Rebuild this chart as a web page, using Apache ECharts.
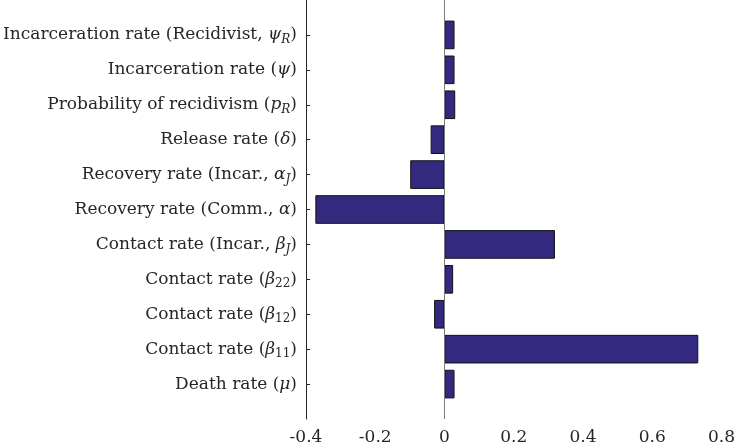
<!DOCTYPE html>
<html>
<head>
<meta charset="utf-8">
<script src="https://cdn.jsdelivr.net/npm/echarts@6/dist/echarts.min.js"></script>
<style>
    html, body { margin: 0; padding: 0; background: #fff; }
    #main { width: 738px; height: 446px; }
</style>
</head>
<body>
<div id="main"></div>
<script>
// categories from bottom to top, with rich-text markup for the math parts
const categories = [
    'Death rate ({m|μ})',
    'Contact rate ({m|β}{n|11})',
    'Contact rate ({m|β}{n|12})',
    'Contact rate ({m|β}{n|22})',
    'Contact rate (Incar., {m|β}{s|J})',
    'Recovery rate (Comm., {m|α})',
    'Recovery rate (Incar., {m|α}{s|J})',
    'Release rate ({m|δ})',
    'Probability of recidivism ({m|p}{s|R})',
    'Incarceration rate ({m|ψ})',
    'Incarceration rate (Recidivist, {m|ψ}{s|R})'
]
const values = [0.029, 0.733, -0.030, 0.025, 0.319, -0.373, -0.099, -0.040, 0.031, 0.029, 0.029]
const xTicks = { min: -0.4, max: 0.8, step: 0.2 }

const font = 'DejaVu Serif'
const fs = 17
const ink = '#262626'

// one empty slot above and below so the bars sit like in the matlab axes
const axisCats = [''].concat(categories, [''])
const axisVals = ['-'].concat(values, ['-'])

const myChart = echarts.init(document.getElementById('main'))

const option = {
    animation: false,
    grid: {
        left: 306,
        right: 12,
        top: 0,
        bottom: 24,
        containLabel: false,
    },
    xAxis: {
        type: 'value',
        min: xTicks.min,
        max: xTicks.max,
        interval: xTicks.step,
        axisLine: { onZero: false, lineStyle: { color: ink, width: 1 } },
        axisTick: { inside: true, length: 4, lineStyle: { color: ink } },
        axisLabel: {
            color: ink,
            fontFamily: font,
            fontSize: fs,
            margin: 10,
        },
        splitLine: { show: false },
    },
    yAxis: {
        type: 'category',
        data: axisCats,
        boundaryGap: false,
        axisLine: { onZero: false, lineStyle: { color: ink, width: 1 } },
        axisTick: {
            inside: true,
            length: 4,
            lineStyle: { color: ink },
            interval: (i) => i > 0 && i < axisCats.length - 1,
        },
        axisLabel: {
            color: ink,
            fontFamily: font,
            fontSize: fs,
            lineHeight: 22,
            margin: 9,
            interval: 0,
            rich: {
                m: { fontFamily: font, fontSize: fs, fontStyle: 'italic', color: ink, lineHeight: 22 },
                s: { fontFamily: font, fontSize: 12, fontStyle: 'italic', color: ink, lineHeight: 12, verticalAlign: 'bottom' },
                n: { fontFamily: font, fontSize: 12, color: ink, lineHeight: 12, verticalAlign: 'bottom' },
            },
        },
        splitLine: { show: false },
    },
    series: [
        {
            type: 'bar',
            data: axisVals,
            barWidth: '82%',
            itemStyle: {
                color: '#332a80',
                borderColor: '#111',
                borderWidth: 1,
            },
            markLine: {
                silent: true,
                symbol: 'none',
                label: { show: false },
                lineStyle: { color: '#7a7a7a', width: 1, type: 'solid' },
                data: [{ xAxis: 0 }],
            },
        },
    ],
}

myChart.setOption(option)
</script>
</body>
</html>
